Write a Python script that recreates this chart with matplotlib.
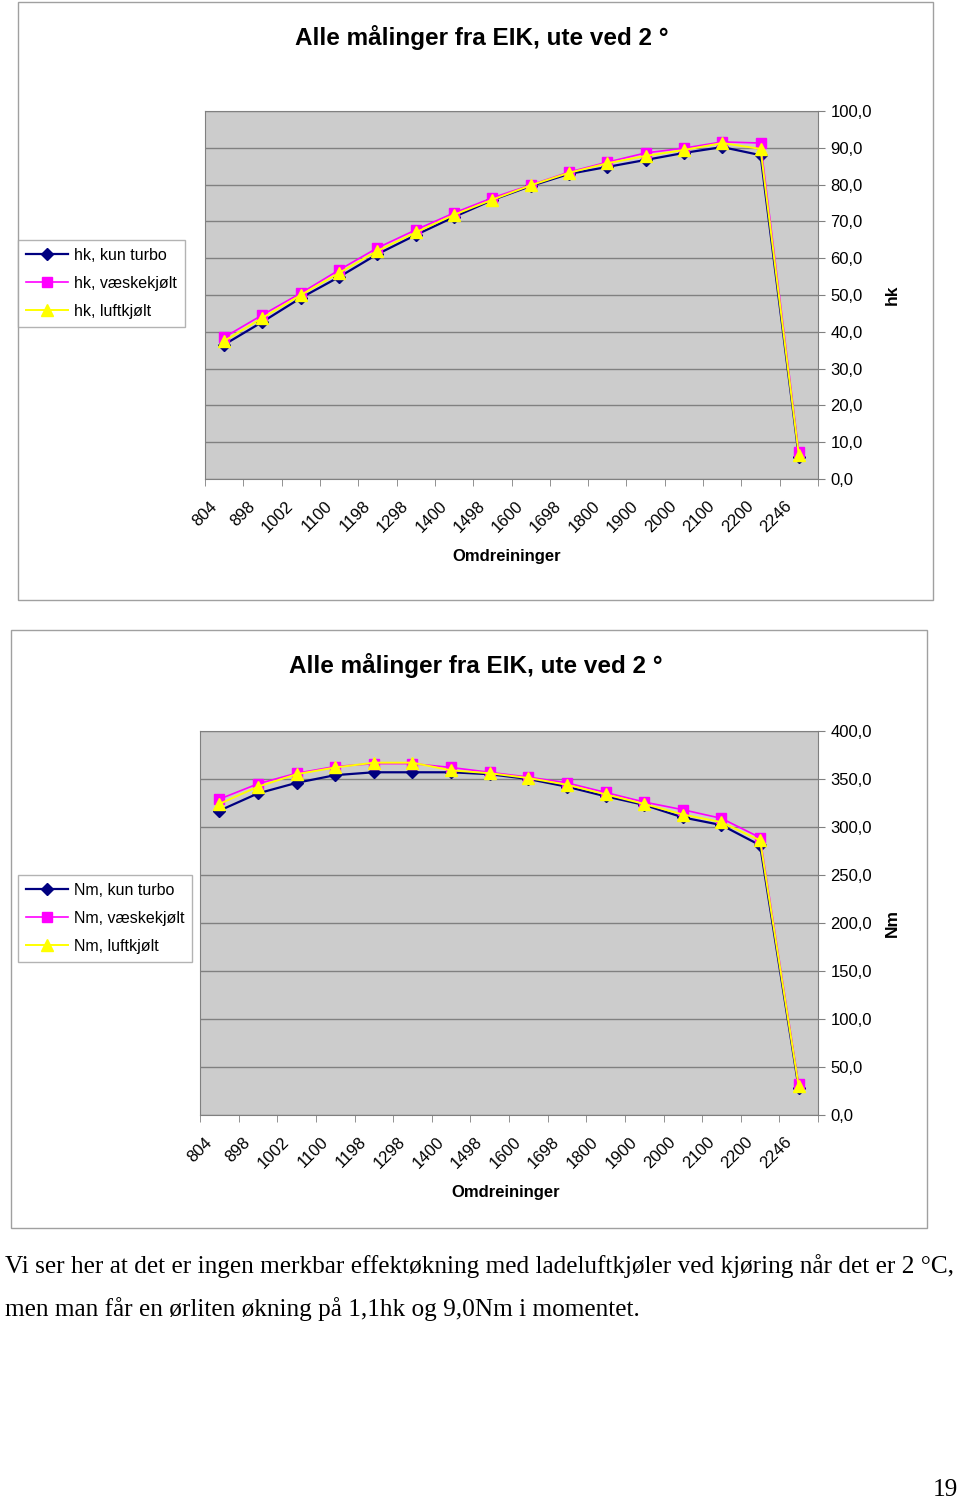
import matplotlib
matplotlib.use("Agg")
import matplotlib.pyplot as plt
from matplotlib.patches import Rectangle
from matplotlib.ticker import FuncFormatter
from matplotlib.transforms import ScaledTranslation

plt.rcParams['font.family'] = ['Liberation Sans', 'DejaVu Sans']

# omdreininger (kategorier)
rpm = ["804", "898", "1002", "1100", "1198", "1298", "1400", "1498", "1600",
       "1698", "1800", "1900", "2000", "2100", "2200", "2246"]

# hk
hk_turbo = [36.5, 42.7, 49.2, 54.9, 61.1, 66.3, 71.2, 75.8, 79.6, 82.9, 84.8,
            86.7, 88.6, 90.2, 88.0, 6.0]
hk_vaeske = [38.5, 44.6, 50.5, 56.8, 62.8, 67.7, 72.3, 76.4, 79.9, 83.4, 86.1,
             88.6, 89.9, 91.6, 91.3, 7.3]
hk_luft = [37.5, 43.8, 50.0, 56.0, 62.0, 67.0, 71.8, 75.9, 79.8, 83.2, 85.8,
           87.8, 89.4, 91.3, 89.7, 6.5]

# Nm
nm_turbo = [317, 335, 346, 354, 357, 357, 357, 355, 350, 342, 332,
            323, 310, 302, 281, 28]
nm_vaeske = [329, 345, 356, 363, 366, 366, 362, 357, 352, 346, 336,
             326, 318, 309, 289, 32]
nm_luft = [324, 342, 355, 362, 367, 367, 359, 356, 351, 344, 334,
           324, 313, 305, 286, 30]

W, H = 960, 1503
fig = plt.figure(figsize=(W / 100, H / 100), dpi=100)


def fr(x, y, w, h):
    return [x / W, 1 - (y + h) / H, w / W, h / H]


def fx(x):
    return x / W


def fy(y):
    return 1 - y / H


def ramme(x, y, w, h):
    fig.patches.append(Rectangle((fx(x), fy(y + h)), w / W, h / H,
                                 transform=fig.transFigure, fill=False,
                                 edgecolor="#a0a0a0", linewidth=1))


def diagram(rect, serier, navn, ymax, ystep, ylabel, legend_pos, tittel, xlabel_pos):
    ax = fig.add_axes(fr(*rect))
    ax.set_facecolor("#cccccc")
    x = list(range(len(rpm)))
    stiler = [("#000080", "D", 6, 1.6), ("#ff00ff", "s", 6.5, 1.2), ("#ffff00", "^", 8, 1.4)]
    linjer = []
    for y, (c, m, ms, lw), n in zip(serier, stiler, navn):
        l, = ax.plot(x, y, color=c, marker=m, markersize=ms, linewidth=lw,
                     markerfacecolor=c, markeredgecolor=c, label=n)
        linjer.append(l)
    ax.set_xlim(-0.5, len(rpm) - 0.5)
    ax.set_ylim(0, ymax)
    ax.set_yticks([i * ystep for i in range(int(ymax / ystep) + 1)])
    ax.yaxis.set_major_formatter(FuncFormatter(lambda v, p: f"{v:.1f}".replace(".", ",")))
    ax.yaxis.tick_right()
    ax.tick_params(axis="y", length=5, labelsize=12, pad=4, color="#808080")
    ax.grid(axis="y", color="#808080", linewidth=1)
    ax.set_axisbelow(True)
    ax.set_xticks(x)
    ax.set_xticklabels(rpm, rotation=45, ha="right", va="top",
                       rotation_mode="anchor", fontsize=12)
    ax.tick_params(axis="x", length=0, pad=14)
    skift = ScaledTranslation(-15 / 100, 0, fig.dpi_scale_trans)
    for t in ax.get_xticklabels():
        t.set_transform(t.get_transform() + skift)
    ax.set_xticks([i + 0.5 for i in range(-1, len(rpm))], minor=True)
    ax.tick_params(axis="x", which="minor", length=5, color="#808080")
    for s in ax.spines.values():
        s.set_color("#808080")
    fig.text(fx(tittel[1]), fy(tittel[2]), tittel[0], fontsize=17.5, fontweight="bold",
             ha="center", va="center")
    fig.text(fx(xlabel_pos[0]), fy(xlabel_pos[1]), "Omdreininger", fontsize=12,
             fontweight="bold", ha="center", va="center")
    fig.text(fx(rect[0] + rect[2] + 74), fy(rect[1] + rect[3] / 2), ylabel,
             fontsize=12.5, fontweight="bold", rotation=90, ha="center", va="center")
    lg = fig.legend(handles=linjer, loc="upper left",
                    bbox_to_anchor=(fx(legend_pos[0]), fy(legend_pos[1])),
                    bbox_transform=fig.transFigure, fontsize=11.5, frameon=True,
                    fancybox=False, edgecolor="#a0a0a0", handlelength=2.6,
                    borderpad=0.5, labelspacing=0.8, handletextpad=0.4,
                    borderaxespad=0)
    lg.get_frame().set_linewidth(1)
    return ax


ramme(18, 2, 915, 598)
diagram((205, 111, 613, 368), [hk_turbo, hk_vaeske, hk_luft],
        ["hk, kun turbo", "hk, væskekjølt", "hk, luftkjølt"],
        100, 10, "hk", (18, 240), ("Alle målinger fra EIK, ute ved 2 °", 482, 38), (507, 557))

ramme(11, 630, 916, 598)
diagram((200, 731, 618, 384), [nm_turbo, nm_vaeske, nm_luft],
        ["Nm, kun turbo", "Nm, væskekjølt", "Nm, luftkjølt"],
        400, 50, "Nm", (18, 875), ("Alle målinger fra EIK, ute ved 2 °", 476, 666), (506, 1192))

serif = ["Liberation Serif", "DejaVu Serif"]
fig.text(fx(5), fy(1266), "Vi ser her at det er ingen merkbar effektøkning med ladeluftkjøler "
         "ved kjøring når det er 2 °C,", fontsize=18.2, family=serif, va="center", ha="left")
fig.text(fx(5), fy(1309), "men man får en ørliten økning på 1,1hk og 9,0Nm i momentet.",
         fontsize=18.2, family=serif, va="center", ha="left")
fig.text(fx(958), fy(1490), "19", fontsize=18.2, family=serif, va="center", ha="right")

fig.savefig("out.png", dpi=100)
